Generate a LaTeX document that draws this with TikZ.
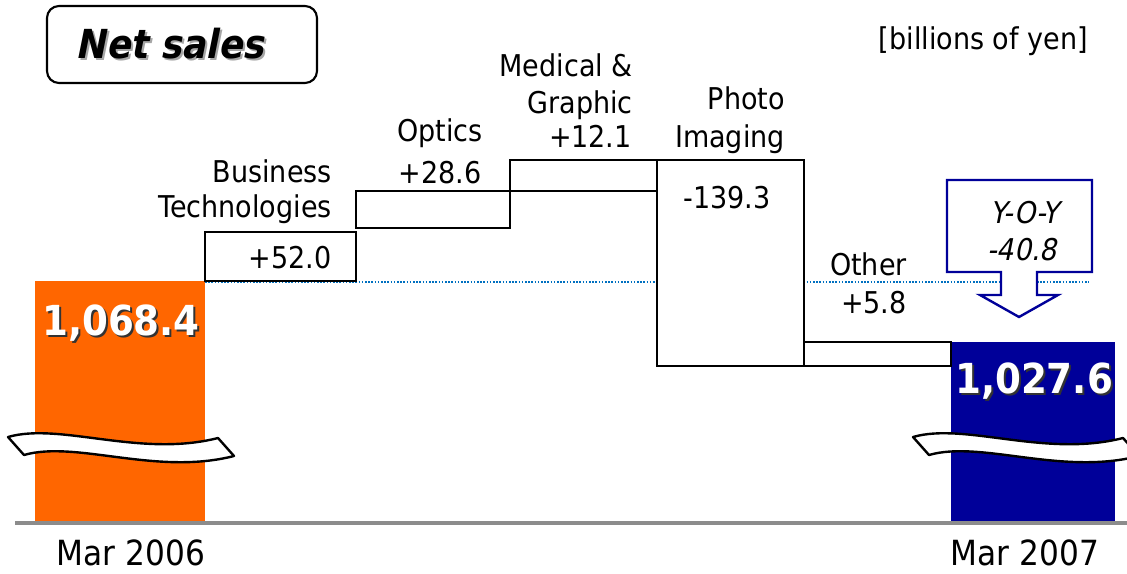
\documentclass[tikz,border=0pt]{standalone}
\usepackage{fontspec}
\setmainfont{DejaVu Sans}[FakeStretch=0.9]
\newfontfamily\slantfont{DejaVu Sans}[FakeStretch=0.9,FakeSlant=0.2]

\tikzset{
  lbl/.style={font=\fontsize{22.5}{27}\selectfont, inner sep=0pt},
  bignum/.style={font=\fontsize{31}{36}\selectfont\bfseries, inner sep=0pt, anchor=base},
  stepbox/.style={draw, fill=white, line width=1.4pt},
  breakband/.style={draw, fill=white, line width=1.8pt, line join=round}
}

\begin{document}
\begin{tikzpicture}[x=0.75pt,y=0.75pt,yscale=-1,xscale=1]
\useasboundingbox (0,0) rectangle (1127,574);

%Shape: Rectangle (Mar 2006)
\fill [color={rgb, 255:red, 255; green, 102; blue, 0 }] (35,281) rectangle (205,523);
%Shape: Rectangle (Mar 2007)
\fill [color={rgb, 255:red, 0; green, 0; blue, 153 }] (951,342) rectangle (1115,523);

%Straight Lines (level of Mar 2006)
\draw [color={rgb, 255:red, 0; green, 112; blue, 192 }, line width=1.2pt, dash pattern=on 1.2pt off 1.2pt] (205,282) -- (1089,282);

%Shape: Rectangle (steps)
\draw [stepbox] (205,232) rectangle (356,281);
\draw [stepbox] (356,191) rectangle (510,228);
\draw [stepbox] (510,160) rectangle (657,191);
\draw [stepbox] (657,160) rectangle (804,366);
\draw [stepbox] (804,342) rectangle (951,366);

%Shape: Down Arrow Callout
\draw [color={rgb, 255:red, 0; green, 0; blue, 153 }, fill=white, line width=1.8pt] (947,180) -- (1092,180) -- (1092,272) -- (1037,272) -- (1037,295) -- (1058,295) -- (1019,317) -- (980,295) -- (1001,295) -- (1001,272) -- (947,272) -- cycle ;

%Shape: Wave (axis breaks)
\draw [breakband] (8,437) .. controls (60,422) and (140,458) .. (218,438) -- (234,456) .. controls (156,476) and (76,440) .. (24,455) -- cycle ;
\begin{scope}
\clip (0,0) rectangle (1127,574);
\draw [breakband, shift={(905,0)}] (8,437) .. controls (60,422) and (140,458) .. (218,438) -- (234,456) .. controls (156,476) and (76,440) .. (24,455) -- cycle ;
\end{scope}

%Straight Lines (axis)
\draw [color={rgb, 255:red, 140; green, 140; blue, 140 }, line width=2.4pt] (15,523) -- (1127,523);

%Shape: Rounded Rectangle (title)
\draw [line width=1.6pt, rounded corners=9pt] (47,6) rectangle (317,83);
\draw (172,61) node [anchor=base, inner sep=0pt, text=black!35, font=\fontsize{30}{36}\slantfont\bfseries] {Net sales};
\draw (170,59) node (title) [anchor=base, inner sep=0pt, font=\fontsize{30}{36}\slantfont\bfseries] {Net sales};

\draw (1088,50) node (unit) [lbl, anchor=base east] {[billions of yen]};

\draw (332,182) node (bt1) [lbl, anchor=base east] {Business};
\draw (332,217) node (bt2) [lbl, anchor=base east] {Technologies};
\draw (332,268) node (btval) [lbl, anchor=base east] {+52.0};

\draw (440,142) node (opt) [lbl, anchor=base] {Optics};
\draw (440,183) node (optval) [lbl, anchor=base] {+28.6};

\draw (633,77) node (mg1) [lbl, anchor=base east] {Medical \&};
\draw (633,114) node (mg2) [lbl, anchor=base east] {Graphic};
\draw (632,148) node (mgval) [lbl, anchor=base east] {+12.1};

\draw (785,110) node (pi1) [lbl, anchor=base east] {Photo};
\draw (785,147) node (pi2) [lbl, anchor=base east] {Imaging};
\draw (727,208) node (pival) [lbl, anchor=base] {-139.3};

\draw (907,275) node (oth) [lbl, anchor=base east] {Other};
\draw (907,313) node (othval) [lbl, anchor=base east] {+5.8};

\draw (1025,223) node (yoy) [lbl, anchor=base, font=\fontsize{22.5}{27}\slantfont] {Y-O-Y};
\draw (1022,260) node (yoyval) [lbl, anchor=base, font=\fontsize{22.5}{27}\slantfont] {-40.8};

\draw (123,337) node [bignum, text=black!80] {1,068.4};
\draw (121,335) node (start) [bignum, text=white] {1,068.4};
\draw (1036,395) node [bignum, text=black!80] {1,027.6};
\draw (1034,393) node (end) [bignum, text=white] {1,027.6};

\draw (131,565) node (yr1) [lbl, anchor=base, font=\fontsize{26}{30}\selectfont] {Mar 2006};
\draw (1025,565) node (yr2) [lbl, anchor=base, font=\fontsize{26}{30}\selectfont] {Mar 2007};

\end{tikzpicture}
\end{document}
